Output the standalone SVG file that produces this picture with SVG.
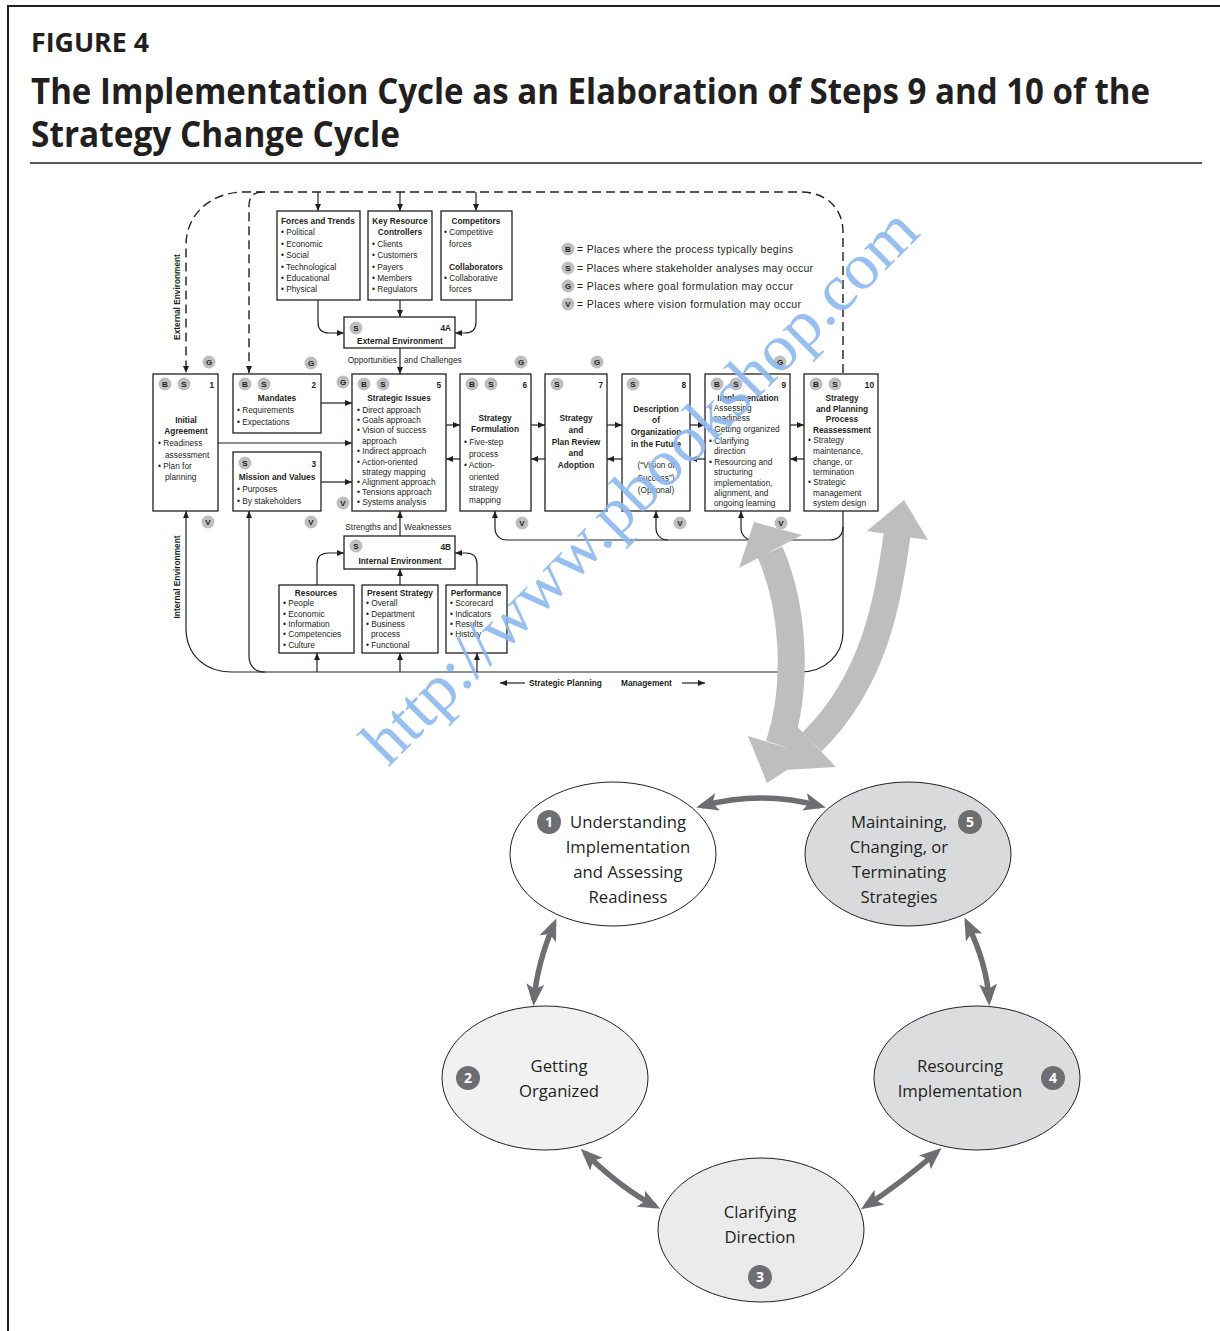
<svg xmlns="http://www.w3.org/2000/svg" xmlns:xlink="http://www.w3.org/1999/xlink" width="1220" height="1331" viewBox="0 0 1220 1331">
<defs>
<style>
.t{font-family:"Liberation Sans",Arial,sans-serif;font-size:8.3px;fill:#231f20}
.b{font-weight:bold}
.m{text-anchor:middle}
.e{text-anchor:end}
.box{fill:#fff;stroke:#231f20;stroke-width:1.3}
.ln{fill:none;stroke:#231f20;stroke-width:1.2}
.dash{fill:none;stroke:#231f20;stroke-width:1.4;stroke-dasharray:9 5}
.tg{font-family:"Liberation Sans",Arial,sans-serif;font-size:8px;font-weight:bold;fill:#231f20;text-anchor:middle}
.lg{font-family:"Liberation Sans",Arial,sans-serif;font-size:10.5px;fill:#231f20}
.el{stroke:#231f20;stroke-width:1}
.et{font-family:"Open Sans","Noto Sans",sans-serif;font-size:16.7px;fill:#231f20;text-anchor:middle}
.nt{font-family:"Open Sans","Noto Sans",sans-serif;font-size:14px;font-weight:bold;fill:#fff;text-anchor:middle}
.cy{fill:none;stroke:#6d6e71;stroke-width:5.5}
.big{fill:none;stroke:#bcbec0;stroke-width:27}
.bh{fill:#bcbec0}
</style>
<marker id="ah" viewBox="0 0 7 6" refX="7" refY="3" markerWidth="7" markerHeight="6" markerUnits="userSpaceOnUse" orient="auto">
<path d="M0,0 L7,3 L0,6 z" fill="#231f20"/>
</marker>
<marker id="cyh" viewBox="0 0 22 18" refX="16" refY="9" markerWidth="22" markerHeight="18" markerUnits="userSpaceOnUse" orient="auto-start-reverse">
<path d="M0,0 L22,9 L0,18 L5,9 z" fill="#6d6e71"/>
</marker>
<g id="tB"><circle r="6.5" fill="#bcbec0"/><text y="3" class="tg">B</text></g>
<g id="tS"><circle r="6.5" fill="#bcbec0"/><text y="3" class="tg">S</text></g>
<g id="tG"><circle r="6.5" fill="#bcbec0"/><text y="3" class="tg">G</text></g>
<g id="tV"><circle r="6.5" fill="#bcbec0"/><text y="3" class="tg">V</text></g>
</defs>

<rect width="1220" height="1331" fill="#fff"/>

<!-- page frame and heading -->
<g id="heading">
<path d="M8,1331 L8,6 L1220,6" fill="none" stroke="#231f20" stroke-width="2"/>
<text x="31" y="52" font-family="Open Sans,Noto Sans,sans-serif" font-weight="bold" font-size="27" fill="#231f20" textLength="118" lengthAdjust="spacingAndGlyphs">FIGURE 4</text>
<text x="31" y="104" font-family="Open Sans,Noto Sans,sans-serif" font-weight="bold" font-size="35" fill="#231f20" textLength="1119" lengthAdjust="spacingAndGlyphs">The Implementation Cycle as an Elaboration of Steps 9 and 10 of the</text>
<text x="31" y="147" font-family="Open Sans,Noto Sans,sans-serif" font-weight="bold" font-size="35" fill="#231f20" textLength="369" lengthAdjust="spacingAndGlyphs">Strategy Change Cycle</text>
<line x1="30" y1="163" x2="1202" y2="163" stroke="#231f20" stroke-width="1.5"/>
</g>

<!-- connectors of the strategy change cycle -->
<g id="connectors">
<path class="dash" d="M843,373 L843,232 C843,208 826,192 800,192 L245,192 C210,192 186,215 186,245 L186,373" marker-end="url(#ah)"/>
<path class="dash" d="M262,192 C254,192 249,197 249,205 L249,373" marker-end="url(#ah)"/>
<path class="ln" d="M318,192 L318,211" marker-end="url(#ah)"/>
<path class="ln" d="M400,192 L400,211" marker-end="url(#ah)"/>
<path class="ln" d="M476,192 L476,211" marker-end="url(#ah)"/>
<path class="ln" d="M318,300 L318,322 Q318,333 329,333 L344,333" marker-end="url(#ah)"/>
<path class="ln" d="M400,300 L400,317" marker-end="url(#ah)"/>
<path class="ln" d="M476,300 L476,322 Q476,333 465,333 L455,333" marker-end="url(#ah)"/>
<path class="ln" d="M400,348 L400,374" marker-end="url(#ah)"/>
<path class="ln" d="M218,443 L352,443" marker-end="url(#ah)"/>
<path class="ln" d="M321,403 L352,403" marker-end="url(#ah)"/>
<path class="ln" d="M321,482 L352,482" marker-end="url(#ah)"/>
<path class="ln" d="M446,425 L460,425" marker-end="url(#ah)"/>
<path class="ln" d="M460,459 L446,459" marker-end="url(#ah)"/>
<path class="ln" d="M531,425 L545,425" marker-end="url(#ah)"/>
<path class="ln" d="M545,459 L531,459" marker-end="url(#ah)"/>
<path class="ln" d="M607,425 L622,425" marker-end="url(#ah)"/>
<path class="ln" d="M622,459 L607,459" marker-end="url(#ah)"/>
<path class="ln" d="M690,425 L705,425" marker-end="url(#ah)"/>
<path class="ln" d="M705,459 L690,459" marker-end="url(#ah)"/>
<path class="ln" d="M790,425 L804,425" marker-end="url(#ah)"/>
<path class="ln" d="M804,459 L790,459" marker-end="url(#ah)"/>
<path class="ln" d="M400,536 L400,511" marker-end="url(#ah)"/>
<path class="ln" d="M317,585 L317,564 Q317,553 328,553 L344,553" marker-end="url(#ah)"/>
<path class="ln" d="M400,585 L400,569" marker-end="url(#ah)"/>
<path class="ln" d="M477,585 L477,564 Q477,553 466,553 L455,553" marker-end="url(#ah)"/>
<path class="ln" d="M843,511 L843,632 C843,655 825,672 800,672 L232,672 C205,672 186,655 186,628 L186,511" marker-end="url(#ah)"/>
<path class="ln" d="M265,672 C255,672 249,666 249,656 L249,511" marker-end="url(#ah)"/>
<path class="ln" d="M317,672 L317,653" marker-end="url(#ah)"/>
<path class="ln" d="M400,672 L400,653" marker-end="url(#ah)"/>
<path class="ln" d="M477,672 L477,653" marker-end="url(#ah)"/>
<path class="ln" d="M843,527 C843,535 838,540 830,540 L507,540 C500,540 495,535 495,528 L495,511" marker-end="url(#ah)"/>
<path class="ln" d="M668,540 C661,540 656,535 656,528 L656,511" marker-end="url(#ah)"/>
<path class="ln" d="M753,540 C746,540 741,535 741,528 L741,511" marker-end="url(#ah)"/>
<path class="ln" d="M525,683 L500,683" marker-end="url(#ah)"/>
<path class="ln" d="M682,683 L705,683" marker-end="url(#ah)"/>
</g>

<!-- external environment -->
<g id="forces-trends">
<rect class="box" x="277" y="211" width="83" height="89"/>
<text class="t b" x="281" y="224">Forces and Trends</text>
<text class="t" x="281" y="235">• Political</text>
<text class="t" x="281" y="246.5">• Economic</text>
<text class="t" x="281" y="258">• Social</text>
<text class="t" x="281" y="269.5">• Technological</text>
<text class="t" x="281" y="281">• Educational</text>
<text class="t" x="281" y="292">• Physical</text>
</g>
<g id="key-resource-controllers">
<rect class="box" x="368" y="211" width="64" height="89"/>
<text class="t b m" x="400" y="224">Key Resource</text>
<text class="t b m" x="400" y="235">Controllers</text>
<text class="t" x="372" y="246.5">• Clients</text>
<text class="t" x="372" y="258">• Customers</text>
<text class="t" x="372" y="269.5">• Payers</text>
<text class="t" x="372" y="281">• Members</text>
<text class="t" x="372" y="292">• Regulators</text>
</g>
<g id="competitors">
<rect class="box" x="441" y="211" width="71" height="89"/>
<text class="t b m" x="476" y="224">Competitors</text>
<text class="t" x="444" y="235">• Competitive</text>
<text class="t" x="449" y="246.5">forces</text>
<text class="t b m" x="476" y="269.5">Collaborators</text>
<text class="t" x="444" y="281">• Collaborative</text>
<text class="t" x="449" y="292">forces</text>
</g>
<g id="step-4a">
<rect class="box" x="344" y="317" width="111" height="31"/>
<use href="#tS" x="356" y="328"/>
<text class="t b e" x="451" y="331">4A</text>
<text class="t b m" x="400" y="344">External Environment</text>
<text class="t e" x="397" y="363">Opportunities</text>
<text class="t" x="404" y="363">and Challenges</text>
</g>

<!-- steps 1 to 10 -->
<g id="step-1">
<rect class="box" x="153" y="374" width="65" height="137"/>
<use href="#tB" x="165" y="384"/><use href="#tS" x="184" y="384"/>
<text class="t b e" x="214" y="388">1</text>
<text class="t b m" x="186" y="423">Initial</text>
<text class="t b m" x="186" y="434">Agreement</text>
<text class="t" x="158" y="446">• Readiness</text>
<text class="t" x="165" y="458">assessment</text>
<text class="t" x="158" y="469">• Plan for</text>
<text class="t" x="165" y="480">planning</text>
</g>
<g id="step-2">
<rect class="box" x="233" y="374" width="88" height="59"/>
<use href="#tB" x="245" y="384"/><use href="#tS" x="264" y="384"/>
<text class="t b e" x="316" y="388">2</text>
<text class="t b m" x="277" y="401">Mandates</text>
<text class="t" x="237" y="413">• Requirements</text>
<text class="t" x="237" y="425">• Expectations</text>
</g>
<g id="step-3">
<rect class="box" x="233" y="452" width="88" height="59"/>
<use href="#tS" x="245" y="463"/>
<text class="t b e" x="316" y="467">3</text>
<text class="t b m" x="277" y="480">Mission and Values</text>
<text class="t" x="237" y="492">• Purposes</text>
<text class="t" x="237" y="504">• By stakeholders</text>
</g>
<g id="step-5">
<rect class="box" x="352" y="374" width="94" height="137"/>
<use href="#tB" x="364" y="384"/><use href="#tS" x="383" y="384"/>
<text class="t b e" x="441" y="388">5</text>
<text class="t b m" x="399" y="401">Strategic Issues</text>
<text class="t" x="357" y="413">• Direct approach</text>
<text class="t" x="357" y="423">• Goals approach</text>
<text class="t" x="357" y="433">• Vision of success</text>
<text class="t" x="362" y="444">approach</text>
<text class="t" x="357" y="454">• Indirect approach</text>
<text class="t" x="357" y="465">• Action-oriented</text>
<text class="t" x="362" y="475">strategy mapping</text>
<text class="t" x="357" y="485">• Alignment approach</text>
<text class="t" x="357" y="495">• Tensions approach</text>
<text class="t" x="357" y="505">• Systems analysis</text>
</g>
<g id="step-6">
<rect class="box" x="460" y="374" width="71" height="137"/>
<use href="#tB" x="472" y="384"/><use href="#tS" x="491" y="384"/>
<text class="t b e" x="527" y="388">6</text>
<text class="t b m" x="495" y="421">Strategy</text>
<text class="t b m" x="495" y="432">Formulation</text>
<text class="t" x="464" y="445">• Five-step</text>
<text class="t" x="469" y="457">process</text>
<text class="t" x="464" y="468">• Action-</text>
<text class="t" x="469" y="480">oriented</text>
<text class="t" x="469" y="491">strategy</text>
<text class="t" x="469" y="503">mapping</text>
</g>
<g id="step-7">
<rect class="box" x="545" y="374" width="62" height="137"/>
<use href="#tS" x="557" y="384"/>
<text class="t b e" x="603" y="388">7</text>
<text class="t b m" x="576" y="421">Strategy</text>
<text class="t b m" x="576" y="433">and</text>
<text class="t b m" x="576" y="445">Plan Review</text>
<text class="t b m" x="576" y="456">and</text>
<text class="t b m" x="576" y="468">Adoption</text>
</g>
<g id="step-8">
<rect class="box" x="622" y="374" width="68" height="137"/>
<use href="#tS" x="633" y="384"/>
<text class="t b e" x="686" y="388">8</text>
<text class="t b m" x="656" y="412">Description</text>
<text class="t b m" x="656" y="423">of</text>
<text class="t b m" x="656" y="435">Organization</text>
<text class="t b m" x="656" y="447">in the Future</text>
<text class="t m" x="656" y="468">(“Vision of</text>
<text class="t m" x="656" y="481">Success”)</text>
<text class="t m" x="656" y="493">(Optional)</text>
</g>
<g id="step-9">
<rect class="box" x="705" y="374" width="85" height="137"/>
<use href="#tB" x="717" y="384"/><use href="#tS" x="736" y="384"/>
<text class="t b e" x="786" y="388">9</text>
<text class="t b m" x="748" y="401">Implementation</text>
<text class="t" x="709" y="411">• Assessing</text>
<text class="t" x="714" y="421">readiness</text>
<text class="t" x="709" y="432">• Getting organized</text>
<text class="t" x="709" y="444">• Clarifying</text>
<text class="t" x="714" y="454">direction</text>
<text class="t" x="709" y="465">• Resourcing and</text>
<text class="t" x="714" y="475">structuring</text>
<text class="t" x="714" y="486">implementation,</text>
<text class="t" x="714" y="496">alignment, and</text>
<text class="t" x="714" y="506">ongoing learning</text>
</g>
<g id="step-10">
<rect class="box" x="804" y="374" width="74" height="137"/>
<use href="#tB" x="816" y="384"/><use href="#tS" x="835" y="384"/>
<text class="t b e" x="874" y="388">10</text>
<text class="t b m" x="842" y="401">Strategy</text>
<text class="t b m" x="842" y="412">and Planning</text>
<text class="t b m" x="842" y="422">Process</text>
<text class="t b m" x="842" y="433">Reassessment</text>
<text class="t" x="808" y="443">• Strategy</text>
<text class="t" x="813" y="454">maintenance,</text>
<text class="t" x="813" y="465">change, or</text>
<text class="t" x="813" y="475">termination</text>
<text class="t" x="808" y="485">• Strategic</text>
<text class="t" x="813" y="496">management</text>
<text class="t" x="813" y="506">system design</text>
</g>

<!-- internal environment -->
<g id="step-4b">
<rect class="box" x="344" y="536" width="111" height="33"/>
<use href="#tS" x="356" y="546"/>
<text class="t b e" x="451" y="550">4B</text>
<text class="t b m" x="400" y="564">Internal Environment</text>
<text class="t e" x="397" y="530">Strengths and</text>
<text class="t" x="404" y="530">Weaknesses</text>
</g>
<g id="resources">
<rect class="box" x="279" y="585" width="75" height="68"/>
<text class="t b m" x="316" y="596">Resources</text>
<text class="t" x="283" y="606">• People</text>
<text class="t" x="283" y="617">• Economic</text>
<text class="t" x="283" y="627">• Information</text>
<text class="t" x="283" y="637">• Competencies</text>
<text class="t" x="283" y="648">• Culture</text>
</g>
<g id="present-strategy">
<rect class="box" x="362" y="585" width="76" height="68"/>
<text class="t b m" x="400" y="596">Present Strategy</text>
<text class="t" x="366" y="606">• Overall</text>
<text class="t" x="366" y="617">• Department</text>
<text class="t" x="366" y="627">• Business</text>
<text class="t" x="371" y="637">process</text>
<text class="t" x="366" y="648">• Functional</text>
</g>
<g id="performance">
<rect class="box" x="446" y="585" width="61" height="68"/>
<text class="t b m" x="476" y="596">Performance</text>
<text class="t" x="450" y="606">• Scorecard</text>
<text class="t" x="450" y="617">• Indicators</text>
<text class="t" x="450" y="627">• Results</text>
<text class="t" x="450" y="637">• History</text>
</g>

<!-- side and bottom labels -->
<g id="labels">
<text class="t b m" transform="translate(180,297) rotate(-90)">External Environment</text>
<text class="t b m" transform="translate(180,577) rotate(-90)">Internal Environment</text>
<text class="t b" x="529" y="686">Strategic Planning</text>
<text class="t b" x="621" y="686">Management</text>
</g>

<!-- goal and vision markers -->
<g id="markers">
<use href="#tG" x="209" y="362"/>
<use href="#tG" x="311" y="363"/>
<use href="#tG" x="343" y="382"/>
<use href="#tG" x="521" y="362"/>
<use href="#tG" x="597" y="362"/>
<use href="#tG" x="780" y="362"/>
<use href="#tV" x="208" y="522"/>
<use href="#tV" x="311" y="522"/>
<use href="#tV" x="343" y="503"/>
<use href="#tV" x="522" y="523"/>
<use href="#tV" x="680" y="523"/>
<use href="#tV" x="781" y="523"/>
</g>

<!-- key -->
<g id="legend">
<use href="#tB" x="568" y="249"/>
<text class="lg" x="577" y="253" textLength="216">= Places where the process typically begins</text>
<use href="#tS" x="568" y="268"/>
<text class="lg" x="577" y="272" textLength="236">= Places where stakeholder analyses may occur</text>
<use href="#tG" x="568" y="286"/>
<text class="lg" x="577" y="290" textLength="216">= Places where goal formulation may occur</text>
<use href="#tV" x="568" y="304"/>
<text class="lg" x="577" y="308" textLength="224">= Places where vision formulation may occur</text>
</g>

<!-- broad links from steps 9 and 10 to the implementation cycle -->
<g id="links">
<path class="big" d="M770,552 C792,602 800,680 779,745"/>
<polygon class="bh" points="754,522 802,535 739,568"/>
<polygon class="bh" points="748,736 810,755 767,783"/>
<path class="big" d="M897,535 C888,600 875,680 812,742"/>
<polygon class="bh" points="904,500 928,540 867,531"/>
<polygon class="bh" points="836,767 788,717 784,770"/>
</g>

<!-- implementation cycle -->
<g id="cycle-arrows">
<path class="cy" d="M702,806 Q761,790 820,806" marker-start="url(#cyh)" marker-end="url(#cyh)"/>
<path class="cy" d="M554,924 Q537,964 534,1000" marker-start="url(#cyh)" marker-end="url(#cyh)"/>
<path class="cy" d="M967,923 Q987,964 989,1000" marker-start="url(#cyh)" marker-end="url(#cyh)"/>
<path class="cy" d="M585,1153 Q622,1189 655,1206" marker-start="url(#cyh)" marker-end="url(#cyh)"/>
<path class="cy" d="M937,1152 Q901,1183 866,1206" marker-start="url(#cyh)" marker-end="url(#cyh)"/>
</g>
<g id="phase-1">
<ellipse class="el" cx="613" cy="854" rx="103" ry="72" fill="#fff"/>
<circle cx="549" cy="822" r="12" fill="#6d6e71"/><text class="nt" x="549" y="827">1</text>
<text class="et" x="628" y="828">Understanding</text>
<text class="et" x="628" y="853">Implementation</text>
<text class="et" x="628" y="878">and Assessing</text>
<text class="et" x="628" y="903">Readiness</text>
</g>
<g id="phase-2">
<ellipse class="el" cx="545" cy="1078" rx="103" ry="72" fill="#f1f1f2"/>
<circle cx="468" cy="1078" r="12" fill="#6d6e71"/><text class="nt" x="468" y="1083">2</text>
<text class="et" x="559" y="1072">Getting</text>
<text class="et" x="559" y="1097">Organized</text>
</g>
<g id="phase-3">
<ellipse class="el" cx="761" cy="1230" rx="103" ry="72" fill="#ebebec"/>
<circle cx="760" cy="1277" r="12" fill="#6d6e71"/><text class="nt" x="760" y="1282">3</text>
<text class="et" x="760" y="1218">Clarifying</text>
<text class="et" x="760" y="1243">Direction</text>
</g>
<g id="phase-4">
<ellipse class="el" cx="977" cy="1078" rx="103" ry="72" fill="#dcdddf"/>
<circle cx="1053" cy="1078" r="12" fill="#6d6e71"/><text class="nt" x="1053" y="1083">4</text>
<text class="et" x="960" y="1072">Resourcing</text>
<text class="et" x="960" y="1097">Implementation</text>
</g>
<g id="phase-5">
<ellipse class="el" cx="908" cy="854" rx="103" ry="72" fill="#d9dadc"/>
<circle cx="970" cy="822" r="12" fill="#6d6e71"/><text class="nt" x="970" y="827">5</text>
<text class="et" x="899" y="828">Maintaining,</text>
<text class="et" x="899" y="853">Changing, or</text>
<text class="et" x="899" y="878">Terminating</text>
<text class="et" x="899" y="903">Strategies</text>
</g>

<!-- diagonal web address -->
<text x="388" y="768" transform="rotate(-45 388 768)" font-family="Liberation Serif,serif" font-size="66" fill="#8cb8ee" fill-opacity="0.9" textLength="755" lengthAdjust="spacingAndGlyphs">http://www.pbookshop.com</text>
</svg>
